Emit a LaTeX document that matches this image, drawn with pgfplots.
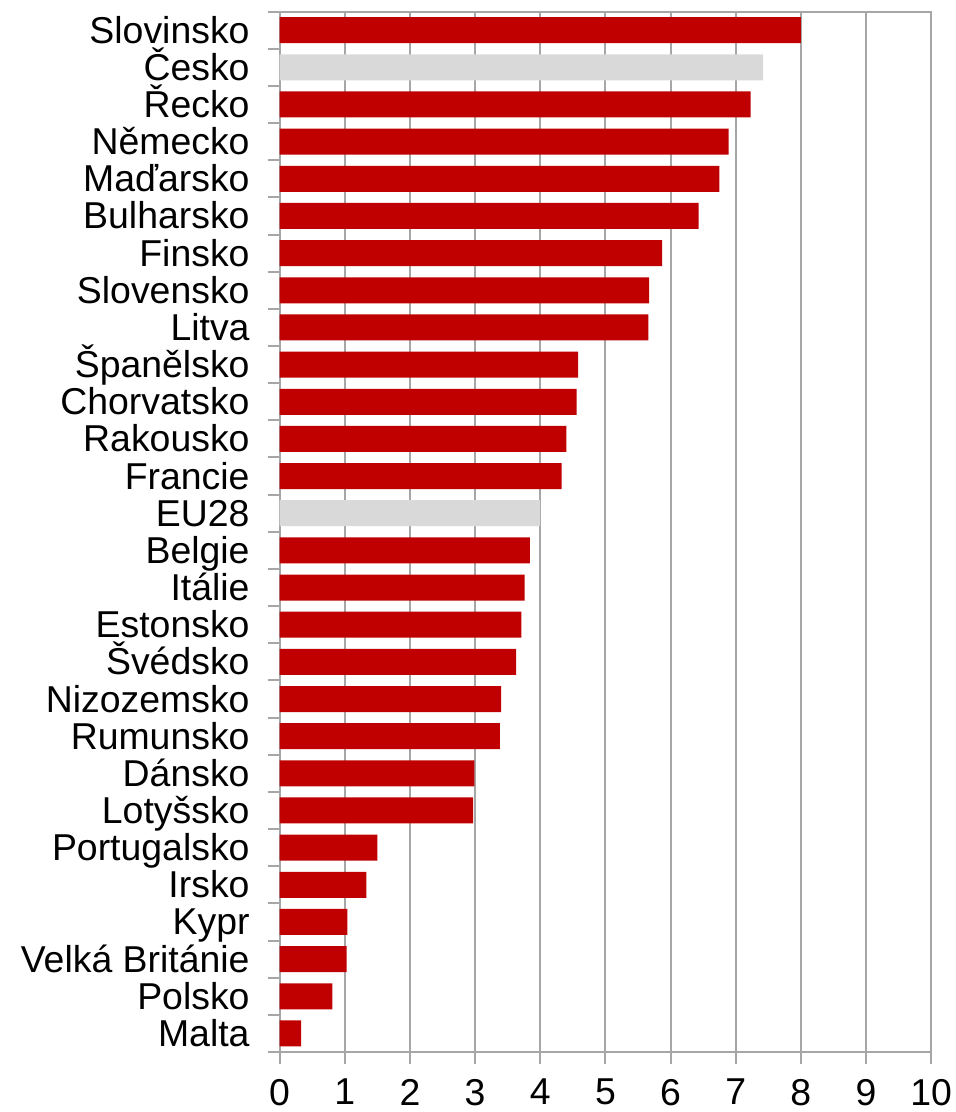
\documentclass[border=0pt]{standalone}
\usepackage{fontspec}
\setmainfont{Liberation Sans}
\usepackage{pgfplots}
\pgfplotsset{compat=1.18}

\definecolor{barred}{HTML}{C00000}
\definecolor{bargray}{HTML}{D9D9D9}
\definecolor{gridgray}{HTML}{A6A6A6}

% 1 px of the reference = 0.5pt
\begin{document}
\begin{tikzpicture}
\path[use as bounding box] (-139.8pt,-30pt) rectangle (337.7pt,526pt);
\begin{axis}[
    at={(0pt,0pt)}, anchor=south west,
    scale only axis,
    width=325.8pt, height=520.2pt,
    xbar, bar width=13pt,
    xmin=0, xmax=10,
    ymin=-0.5, ymax=27.5,
    y dir=reverse,
    xtick={0,1,...,10},
    ytick={-0.5,0.5,...,27.5},
    yticklabels={},
    extra y ticks={0,1,...,27},
    extra y tick labels={Slovinsko,Česko,Řecko,Německo,Maďarsko,Bulharsko,Finsko,
      Slovensko,Litva,Španělsko,Chorvatsko,Rakousko,Francie,EU28,Belgie,
      Itálie,Estonsko,Švédsko,Nizozemsko,Rumunsko,Dánsko,Lotyšsko,
      Portugalsko,Irsko,Kypr,Velká Británie,Polsko,Malta},
    extra y tick style={major tick length=0pt},
    xmajorgrids,
    major grid style={gridgray, line width=1pt},
    axis line style={gridgray, line width=1pt},
    every tick/.style={gridgray, line width=1pt},
    tick align=outside,
    tickpos=left,
    major tick length=6pt,
    tick label style={font=\fontsize{18.7}{20}\selectfont},
    /pgf/number format/assume math mode=true,
    yticklabel style={anchor=east, text height=13pt, text depth=0pt, xshift=-11.5pt, yshift=0pt},
    xticklabel style={yshift=-4pt},
]
\addplot[fill=barred, draw=none, bar shift=0pt] coordinates {
    (8.00,0) (7.23,2) (6.89,3) (6.75,4) (6.43,5) (5.87,6)
    (5.67,7) (5.66,8) (4.58,9) (4.56,10) (4.40,11) (4.33,12)
    (3.84,14) (3.76,15) (3.71,16) (3.63,17) (3.40,18) (3.38,19)
    (2.99,20) (2.97,21) (1.50,22) (1.33,23) (1.04,24) (1.03,25)
    (0.81,26) (0.33,27)
};
\addplot[fill=bargray, draw=none, bar shift=0pt] coordinates {
    (7.42,1) (4.00,13)
};
\end{axis}
\end{tikzpicture}
\end{document}
